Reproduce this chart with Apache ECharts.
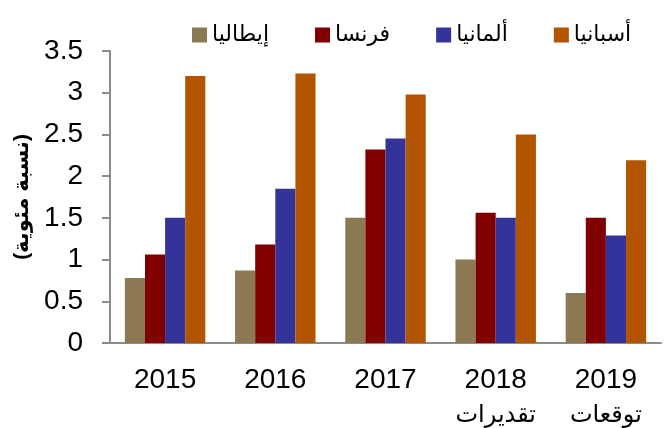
<!DOCTYPE html>
<html>
<head>
<meta charset="utf-8">
<script src="https://cdn.jsdelivr.net/npm/echarts@6/dist/echarts.min.js"></script>
<style>
  html, body { margin: 0; padding: 0; background: #fff; }
  #chart { width: 672px; height: 428px; }
</style>
</head>
<body>
<div id="chart"></div>
<script>
  // years on the x axis, with the sub-line for estimate / forecast
  var years = ['2015', '2016', '2017', '2018', '2019'];
  var subLabels = ['', '', '', 'تقديرات', 'توقعات'];

  var seriesNames = ['إيطاليا', 'فرنسا', 'ألمانيا', 'أسبانيا'];
  var italy   = [0.78, 0.87, 1.5, 1.0, 0.6];
  var france  = [1.06, 1.18, 2.32, 1.56, 1.5];
  var germany = [1.5, 1.85, 2.45, 1.5, 1.29];
  var spain   = [3.2, 3.23, 2.98, 2.5, 2.19];

  var colors = ['#8c7853', '#800000', '#333399', '#b35400'];
  var font = '"Liberation Sans", "DejaVu Sans", Arial, sans-serif';

  const myChart = echarts.init(document.getElementById('chart'));

  var values = [italy, france, germany, spain];
  var series = seriesNames.map(function (name, i) {
    return {
      name: name,
      type: 'bar',
      data: values[i],
      barGap: '0%',
      barCategoryGap: '27%',
      itemStyle: { color: colors[i] }
    };
  });

  var option = {
    animation: false,
    color: colors,
    textStyle: { fontFamily: font },
    legend: {
      left: 187,
      top: 19,
      itemWidth: 15,
      itemHeight: 15,
      itemGap: 46,
      icon: 'rect',
      textStyle: { fontSize: 22, color: '#000', fontFamily: font },
      data: seriesNames
    },
    grid: {
      left: 110,
      right: 11,
      top: 51,
      bottom: 85
    },
    xAxis: {
      type: 'category',
      data: years,
      axisLine: { lineStyle: { color: '#8c8c8c', width: 2 } },
      axisTick: { length: 9, lineStyle: { color: '#8c8c8c', width: 2 } },
      axisLabel: {
        margin: 19,
        formatter: function (v, idx) {
          var s = '{a|' + v + '}';
          if (subLabels[idx]) s += '\n{b|' + subLabels[idx] + '}';
          return s;
        },
        rich: {
          a: { fontSize: 28, color: '#000', lineHeight: 36, fontFamily: font },
          b: { fontSize: 24, color: '#000', lineHeight: 34, fontFamily: font }
        }
      }
    },
    yAxis: {
      type: 'value',
      min: 0,
      max: 3.5,
      interval: 0.5,
      name: '(نسبة مئوية)',
      nameLocation: 'middle',
      nameRotate: 90,
      nameGap: 72,
      nameTextStyle: { fontSize: 21, fontWeight: 'bold', color: '#000', fontFamily: font },
      splitLine: { show: false },
      axisLine: { show: true, lineStyle: { color: '#8c8c8c', width: 2 } },
      axisTick: { show: true, length: 8, lineStyle: { color: '#8c8c8c', width: 2 } },
      axisLabel: {
        margin: 27,
        fontSize: 28,
        color: '#000',
        fontFamily: font
      }
    },
    series: series
  };
  myChart.setOption(option, true);
</script>
</body>
</html>
